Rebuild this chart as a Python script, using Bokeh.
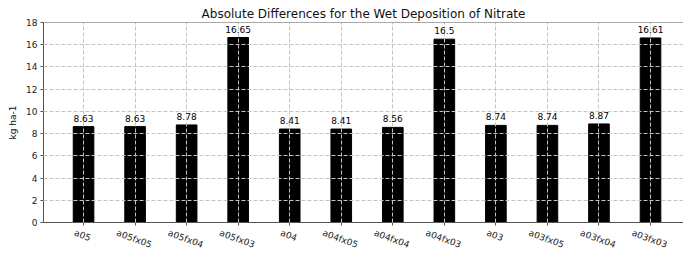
import math
from bokeh.plotting import figure
from bokeh.models import (Range1d, FixedTicker, ColumnDataSource, LabelSet, Span, LinearAxis)
from bokeh.core.properties import value
from bokeh.embed import file_html
from bokeh.resources import INLINE

categories = ["a05", "a05fx05", "a05fx04", "a05fx03", "a04", "a04fx05", "a04fx04",
              "a04fx03", "a03", "a03fx05", "a03fx04", "a03fx03"]
values = [8.63, 8.63, 8.78, 16.65, 8.41, 8.41, 8.56, 16.5, 8.74, 8.74, 8.87, 16.61]
y_ticks = [0, 2, 4, 6, 8, 10, 12, 14, 16, 18]

FONT = "DejaVu Sans"
LABEL_PX = 9
ANGLE = 0.35
X0, X1 = -0.777, 11.64
W, H = 683, 258
LEFT, TOP, BOTTOM = 43, 22, 36

xs = list(range(len(categories)))
src = ColumnDataSource(dict(x=xs, top=values, lab=[str(v) for v in values]))

p = figure(width=W, height=H, x_range=Range1d(X0, X1), y_range=Range1d(0, 18),
           output_backend="svg", toolbar_location=None,
           min_border_left=LEFT, min_border_right=0, min_border_top=TOP, min_border_bottom=BOTTOM)

p.title.text = "Absolute Differences for the Wet Deposition of Nitrate"
p.title.align = "center"
p.title.text_font = FONT
p.title.text_font_size = "12px"
p.title.text_font_style = "normal"
p.title.text_color = "#111111"
p.title.standoff = 4
p.title.offset = 0

p.vbar(x="x", top="top", width=0.4, source=src, fill_color="black", line_color="black")

p.outline_line_color = None
p.add_layout(Span(location=18, dimension="width", line_color="#555555", line_width=1))

xax = p.xaxis[0]
yax = p.yaxis[0]
for ax in (xax, yax):
    ax.axis_line_color = "#555555"
    ax.major_tick_line_color = "#555555"
    ax.major_tick_in = 0
    ax.major_tick_out = 3
    ax.minor_tick_line_color = None
    ax.major_label_text_font = FONT
    ax.major_label_text_font_size = f"{LABEL_PX}px"
    ax.major_label_text_color = "#222222"
    ax.major_label_standoff = 3

# main x axis: line + tick marks at the bar centres (its own labels are not drawn)
xax.ticker = FixedTicker(ticks=xs)
xax.major_label_text_color = None
xax.major_label_text_font_size = "1px"
xax.major_label_standoff = 0

# category labels: rotated, each centred under its bar (matplotlib-like ha="center")
char_em = {"a": 0.613, "0": 0.636, "3": 0.636, "4": 0.636, "5": 0.636, "f": 0.352, "x": 0.592}
ppu = (W - LEFT) / (X1 - X0)
label_pos = []
for x, name in zip(xs, categories):
    wpx = sum(char_em.get(ch, 0.6) for ch in name) * LABEL_PX
    shift = (wpx * math.cos(ANGLE) / 2 + 1) / ppu
    label_pos.append(x - shift)

lab_ax = LinearAxis(ticker=FixedTicker(ticks=label_pos),
                    major_label_overrides={t: c for t, c in zip(label_pos, categories)},
                    major_label_orientation=-ANGLE,
                    axis_line_color=None, major_tick_line_color=None,
                    minor_tick_line_color=None, major_tick_in=0, major_tick_out=0,
                    major_label_standoff=7,
                    major_label_text_font=FONT, major_label_text_font_size=f"{LABEL_PX}px",
                    major_label_text_color="#222222")
p.add_layout(lab_ax, "below")

yax.ticker = FixedTicker(ticks=y_ticks)
yax.axis_label = "kg ha-1"
yax.axis_label_text_font = FONT
yax.axis_label_text_font_size = "9px"
yax.axis_label_text_font_style = "normal"
yax.axis_label_text_color = "#111111"
yax.axis_label_standoff = 5

for g in (p.xgrid[0], p.ygrid[0]):
    g.grid_line_color = "#c4c4c4"
    g.grid_line_dash = "4 2"
    g.grid_line_width = 1
    g.level = "annotation"

labels = LabelSet(x="x", y="top", text="lab", source=src, text_align="center",
                  text_baseline="bottom", y_offset=5, text_font=value(FONT),
                  text_font_size="9px", text_color="black")
p.add_layout(labels)

open("out.html", "w").write(file_html(p, INLINE))
